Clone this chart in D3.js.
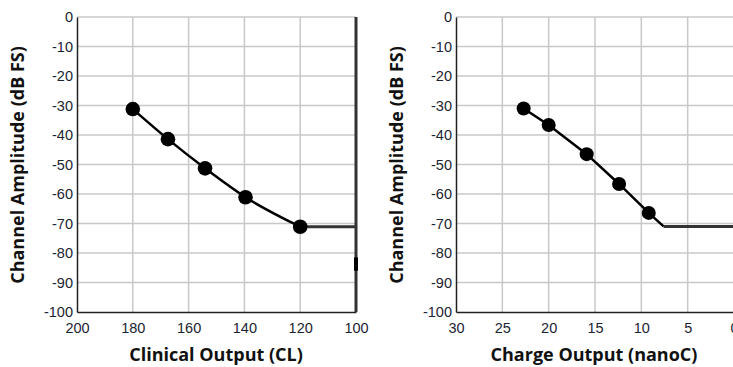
<!DOCTYPE html>
<html><head><meta charset="utf-8">
<script src="https://cdn.jsdelivr.net/npm/d3@7"></script>
<style>body{margin:0;background:#fff}svg{display:block}</style>
</head><body>
<script>
// Data
const yTicks = [0,-10,-20,-30,-40,-50,-60,-70,-80,-90,-100];
const clinicalTicks = [200,180,160,140,120,100];
const clinicalX = [180,167.4,154.1,139.6,120];
const clinicalY = [-31.2,-41.4,-51.3,-61.1,-71.1];
const clinicalFloorX = [120,100];
const clinicalFloorY = [-71.1,-71.1];
const chargeTicks = [30,25,20,15,10,5,0];
const chargeX = [22.7,20.0,15.9,12.4,9.2];
const chargeY = [-31.0,-36.6,-46.5,-56.6,-66.4];
const chargeLineX = [22.7,20.0,15.9,12.4,9.2,7.6];
const chargeLineY = [-31.0,-36.6,-46.5,-56.6,-66.4,-71.0];
const chargeFloorX = [7.6,0];
const chargeFloorY = [-71.0,-71.0];

const svg = d3.select("body").append("svg").attr("width",733).attr("height",367);

function panel(o){
  const g = svg.append("g");
  const x = d3.scaleLinear().domain(o.xDomain).range([o.left,o.right]);
  const y = d3.scaleLinear().domain([0,-100]).range([17,312]);
  // grid
  g.append("g").selectAll("line.v").data(o.xTicks.slice(1)).join("line")
    .attr("x1",d=>x(d)).attr("x2",d=>x(d)).attr("y1",y(0)).attr("y2",y(-100))
    .attr("stroke","#c8c8c8").attr("stroke-width",1.5);
  g.append("g").selectAll("line.h").data(yTicks.slice(0,-1)).join("line")
    .attr("x1",o.left).attr("x2",o.right).attr("y1",d=>y(d)).attr("y2",d=>y(d))
    .attr("stroke","#c8c8c8").attr("stroke-width",1.5);
  // axes
  const fmt = d => String(d);
  const ya = g.append("g").attr("transform",`translate(${o.left},0)`)
    .call(d3.axisLeft(y).tickValues(yTicks).tickSize(0).tickPadding(4).tickFormat(fmt));
  ya.select(".domain").attr("stroke","#222").attr("stroke-width",1.5);
  const xa = g.append("g").attr("transform",`translate(0,${y(-100)})`)
    .call(d3.axisBottom(x).tickValues(o.xTicks).tickSize(0).tickPadding(11).tickFormat(fmt));
  xa.select(".domain").attr("stroke","#222").attr("stroke-width",1.5);
  g.selectAll(".tick text").attr("font-family","'Liberation Sans',Arial,sans-serif")
    .attr("font-size",14.5).attr("fill","#1c2433");
  // line
  const line = d3.line().x(d=>x(d[0])).y(d=>y(d[1])).curve(o.curve);
  const floor = d3.line().x(d=>x(d[0])).y(d=>y(d[1]));
  g.append("path").attr("d",floor(d3.zip(o.floorX,o.floorY)))
    .attr("fill","none").attr("stroke","#333").attr("stroke-width",3);
  g.append("path").attr("d",line(d3.zip(o.lineX,o.lineY)))
    .attr("fill","none").attr("stroke","#000").attr("stroke-width",2.5);
  g.append("g").selectAll("circle").data(d3.zip(o.ptX,o.ptY)).join("circle")
    .attr("cx",d=>x(d[0])).attr("cy",d=>y(d[1])).attr("r",o.r).attr("fill","#000");
  if(o.rightBorder){
    g.append("line").attr("x1",o.right).attr("x2",o.right).attr("y1",y(0)).attr("y2",y(-100))
      .attr("stroke","#333").attr("stroke-width",3);
    g.append("line").attr("x1",o.right).attr("x2",o.right).attr("y1",y(-81.5)).attr("y2",y(-86))
      .attr("stroke","#000").attr("stroke-width",4);
  }
  // titles
  g.append("text").attr("transform",`translate(${o.yTitleX},165) rotate(-90)`)
    .attr("text-anchor","middle").attr("font-family","'Open Sans',sans-serif")
    .attr("font-weight","bold").attr("font-size",18).attr("fill","#111").text("Channel Amplitude (dB FS)");
  g.append("text").attr("x",o.xTitleX).attr("y",361)
    .attr("text-anchor","middle").attr("font-family","'Open Sans',sans-serif")
    .attr("font-weight","bold").attr("font-size",18).attr("fill","#111").text(o.xTitle);
}

panel({xDomain:[200,100],left:77,right:356,xTicks:clinicalTicks,
  lineX:clinicalX,lineY:clinicalY,ptX:clinicalX,ptY:clinicalY,
  floorX:clinicalFloorX,floorY:clinicalFloorY,curve:d3.curveMonotoneX,r:7.3,
  rightBorder:true,yTitleX:24,xTitleX:216,xTitle:"Clinical Output (CL)"});
panel({xDomain:[30,0],left:456,right:734,xTicks:chargeTicks,
  lineX:chargeLineX,lineY:chargeLineY,ptX:chargeX,ptY:chargeY,
  floorX:chargeFloorX,floorY:chargeFloorY,curve:d3.curveLinear,r:7,
  rightBorder:false,yTitleX:403,xTitleX:594,xTitle:"Charge Output (nanoC)"});
</script>
</body></html>
